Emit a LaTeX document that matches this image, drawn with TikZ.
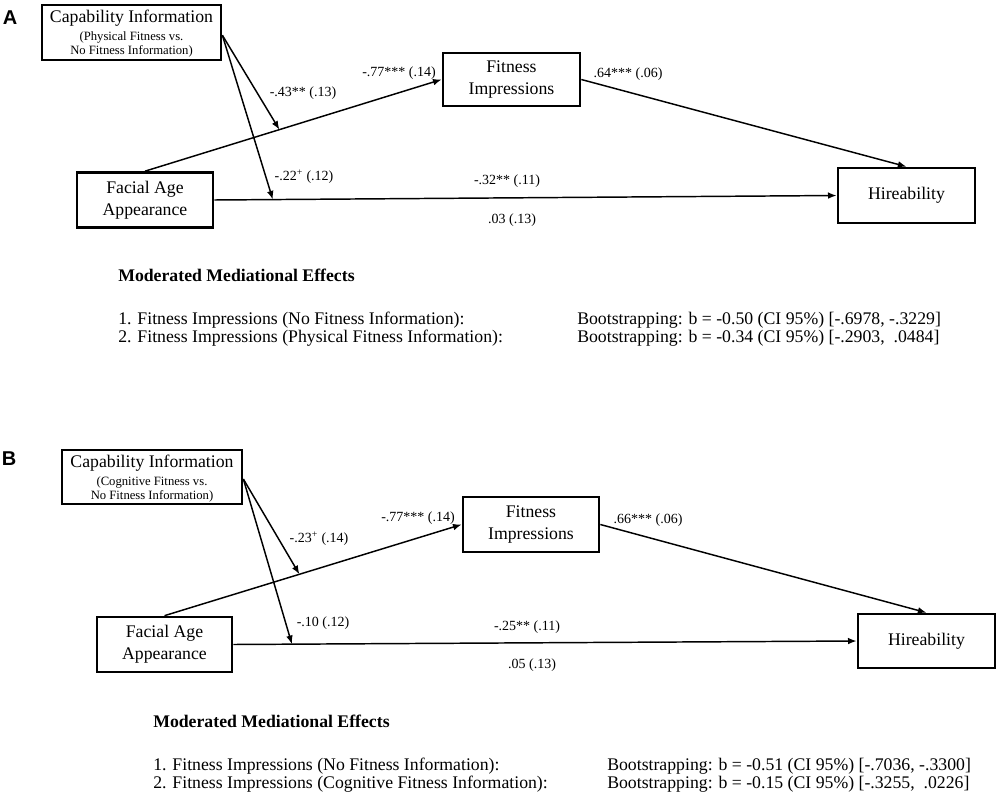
\documentclass[tikz,border=0pt]{standalone}
\usepackage{fontspec}
\setmainfont{Liberation Serif}
\newfontfamily\panelfont{Liberation Sans}
\usetikzlibrary{arrows.meta,calc}
\begin{document}
\begin{tikzpicture}[x=0.75pt,y=-0.75pt,
 box/.style={draw,line width=2pt,inner sep=0pt,align=center,font=\fontsize{13.3}{16.5}\selectfont},
 conn/.style={line width=1.1pt,-{Latex[length=6.5pt,width=5pt]}},
 coef/.style={font=\fontsize{10.5}{12}\selectfont,inner sep=0pt},
 ttl/.style={font=\fontsize{13.3}{16}\selectfont,inner sep=0pt},
 subt/.style={font=\fontsize{9.5}{11}\selectfont,inner sep=0pt},
 head/.style={font=\fontsize{13.3}{16}\selectfont\bfseries,anchor=west,inner sep=0pt},
 rowtxt/.style={font=\fontsize{13.3}{16}\selectfont,anchor=west,inner sep=0pt},
 panel/.style={font=\panelfont\bfseries\fontsize{15}{17}\selectfont,inner sep=0pt}]
\useasboundingbox (0,0) rectangle (1000,799);

% ---------------- Panel A ----------------
\node[panel] (lblA) at (10,18) {A};
\node[box,minimum width=179*0.75pt,minimum height=55*0.75pt] (capA) at (131.5,32.5) {};
\node[ttl] (capAt) at (131.5,18.5) {Capability Information};
\node[subt] (capAs1) at (131.5,37.5) {(Physical Fitness vs.};
\node[subt] (capAs2) at (131.5,51.5) {No Fitness Information)};
\node[box,minimum width=136*0.75pt,minimum height=55*0.75pt] (faceA) at (145,200) {Facial Age\\Appearance};
\node[box,minimum width=137*0.75pt,minimum height=53*0.75pt] (fiA) at (511.5,79.5) {Fitness\\Impressions};
\node[box,minimum width=137*0.75pt,minimum height=55*0.75pt] (hireA) at (906.5,195.5) {Hireability};

\coordinate (mA1) at ($(faceA.north)!0.453!(fiA.west)$);
\coordinate (mA2) at ($(faceA.east)!0.094!(hireA.west)$);
\coordinate (cA) at ([yshift=-2pt]capA.east);
\draw[conn] (faceA.north) -- (fiA.west);
\draw[conn] (fiA.east) -- (hireA.north);
\draw[conn] (faceA.east) -- (hireA.west);
\draw[conn] (cA) -- (mA1);
\draw[conn] (cA) -- (mA2);

\node[coef] (cA1) at (303,93) {-.43** (.13)};
\node[coef] (cA2) at (399,73) {-.77*** (.14)};
\node[coef] (cA3) at (628,74) {.64*** (.06)};
\node[coef] (cA4) at (304,177) {-.22\textsuperscript{+} (.12)};
\node[coef] (cA5) at (507,181) {-.32** (.11)};
\node[coef] (cA6) at (512,220) {.03 (.13)};

\node[head] (hA) at (118,275) {Moderated Mediational Effects};
\node[rowtxt] (rA1) at (118,320) {1. Fitness Impressions (No Fitness Information):};
\node[rowtxt] (rA2) at (118,338) {2. Fitness Impressions (Physical Fitness Information):};
\node[rowtxt] (bA1) at (577,320) {Bootstrapping: b = -0.50 (CI 95\%) [-.6978, -.3229]};
\node[rowtxt] (bA2) at (577,338) {Bootstrapping: b = -0.34 (CI 95\%) [-.2903, \ .0484]};

% ---------------- Panel B ----------------
\node[panel] (lblB) at (9,459) {B};
\node[box,minimum width=180*0.75pt,minimum height=54*0.75pt] (capB) at (152,477) {};
\node[ttl] (capBt) at (152,463.5) {Capability Information};
\node[subt] (capBs1) at (152,482.5) {(Cognitive Fitness vs.};
\node[subt] (capBs2) at (152,496.5) {No Fitness Information)};
\node[box,minimum width=135*0.75pt,minimum height=55*0.75pt] (faceB) at (164.5,644.5) {Facial Age\\Appearance};
\node[box,minimum width=136*0.75pt,minimum height=55*0.75pt] (fiB) at (531,524.5) {Fitness\\Impressions};
\node[box,minimum width=137*0.75pt,minimum height=54*0.75pt] (hireB) at (926.5,641) {Hireability};

\coordinate (mB1) at ($(faceB.north)!0.454!(fiB.west)$);
\coordinate (mB2) at ($(faceB.east)!0.094!(hireB.west)$);
\coordinate (cB) at ([yshift=-1.5pt]capB.east);
\draw[conn] (faceB.north) -- (fiB.west);
\draw[conn] (fiB.east) -- (hireB.north);
\draw[conn] (faceB.east) -- (hireB.west);
\draw[conn] (cB) -- (mB1);
\draw[conn] (cB) -- (mB2);

\node[coef] (cB1) at (319,539) {-.23\textsuperscript{+} (.14)};
\node[coef] (cB2) at (418,518) {-.77*** (.14)};
\node[coef] (cB3) at (648,520) {.66*** (.06)};
\node[coef] (cB4) at (323,623) {-.10 (.12)};
\node[coef] (cB5) at (527,627) {-.25** (.11)};
\node[coef] (cB6) at (532,665) {.05 (.13)};

\node[head] (hB) at (153,721) {Moderated Mediational Effects};
\node[rowtxt] (rB1) at (153,766) {1. Fitness Impressions (No Fitness Information):};
\node[rowtxt] (rB2) at (153,784) {2. Fitness Impressions (Cognitive Fitness Information):};
\node[rowtxt] (bB1) at (607,766) {Bootstrapping: b = -0.51 (CI 95\%) [-.7036, -.3300]};
\node[rowtxt] (bB2) at (607,784) {Bootstrapping: b = -0.15 (CI 95\%) [-.3255, \ .0226]};
\end{tikzpicture}
\end{document}
